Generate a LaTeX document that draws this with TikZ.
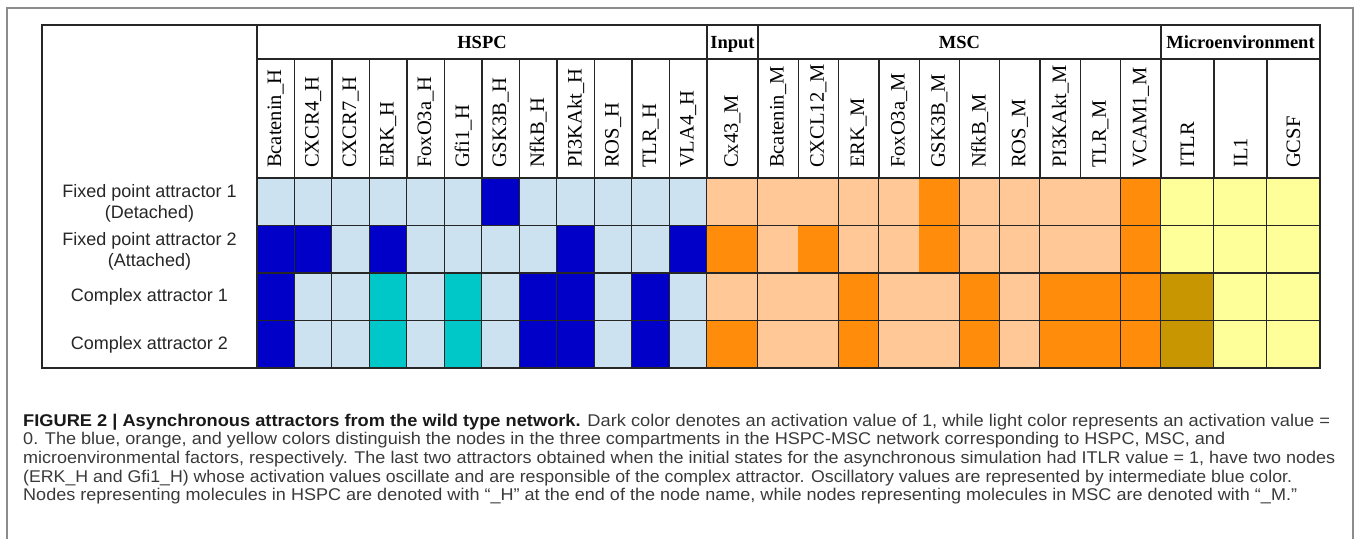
\documentclass[tikz,border=0pt]{standalone}
\usepackage{fontspec}
\usepackage{graphicx}
\setmainfont{Liberation Serif}
\newfontfamily\sansf{Liberation Sans}
\definecolor{lb}{HTML}{CCE2F0}
\definecolor{db}{HTML}{0000C8}
\definecolor{cy}{HTML}{00C8C8}
\definecolor{lo}{HTML}{FFC896}
\definecolor{do}{HTML}{FF8C0A}
\definecolor{ly}{HTML}{FFFF99}
\definecolor{dy}{HTML}{C89600}
\definecolor{framegray}{HTML}{8C8C8C}
\definecolor{captxt}{HTML}{3A3A3A}
\begin{document}
\begin{tikzpicture}[x=1pt,y=-1pt,
  colhead/.style={rotate=90, anchor=west, inner sep=0pt, font=\fontsize{20.5}{20.5}\selectfont},
  grouphead/.style={anchor=base, inner sep=0pt, font=\fontsize{18.5}{19}\selectfont\bfseries},
  rowlab/.style={align=center, inner sep=0pt, text=black!85, font=\sansf\fontsize{18}{21}\selectfont},
  capline/.style={anchor=base west, inner sep=0pt, text=captxt, font=\sansf\fontsize{17}{18}\selectfont},
  tline/.style={line width=1.3pt, draw=black!85},
  framebox/.style={line width=1.5pt, draw=framegray}]
\useasboundingbox (0,0) rectangle (1357,538);
% outer frame
\draw[framebox] (7,540) -- (7,8) -- (1353,8) -- (1353,540);
% cells and column labels
\foreach \xa/\xb/\lbl/\ca/\cb/\cc/\cd [count=\i] in {
  257/294.5/Bcatenin\_H/lb/db/db/db,
  294.5/332/CXCR4\_H/lb/db/lb/lb,
  332/369.5/CXCR7\_H/lb/lb/lb/lb,
  369.5/407/ERK\_H/lb/db/cy/cy,
  407/444.5/FoxO3a\_H/lb/lb/lb/lb,
  444.5/482/Gfi1\_H/lb/lb/cy/cy,
  482/519.5/GSK3B\_H/db/lb/lb/lb,
  519.5/557/NfkB\_H/lb/lb/db/db,
  557/594.5/PI3KAkt\_H/lb/db/db/db,
  594.5/632/ROS\_H/lb/lb/lb/lb,
  632/669.5/TLR\_H/lb/lb/db/db,
  669.5/707/VLA4\_H/lb/db/lb/lb,
  707/758/Cx43\_M/lo/do/lo/do,
  758/798.3/Bcatenin\_M/lo/lo/lo/lo,
  798.3/838.6/CXCL12\_M/lo/do/lo/lo,
  838.6/878.9/ERK\_M/lo/lo/do/do,
  878.9/919.2/FoxO3a\_M/lo/lo/lo/lo,
  919.2/959.5/GSK3B\_M/do/do/lo/lo,
  959.5/999.8/NfkB\_M/lo/lo/do/do,
  999.8/1040.1/ROS\_M/lo/lo/lo/lo,
  1040.1/1080.4/PI3KAkt\_M/lo/lo/do/do,
  1080.4/1120.7/TLR\_M/lo/lo/do/do,
  1120.7/1161/VCAM1\_M/do/do/do/do,
  1161/1214/ITLR/ly/ly/dy/dy,
  1214/1267/IL1/ly/ly/ly/ly,
  1267/1320/GCSF/ly/ly/ly/ly}{
  \fill[\ca] (\xa,178) rectangle (\xb,225.5);
  \fill[\cb] (\xa,225.5) rectangle (\xb,273);
  \fill[\cc] (\xa,273) rectangle (\xb,320.5);
  \fill[\cd] (\xa,320.5) rectangle (\xb,368);
  \node[colhead] (col\i) at ({(\xa+\xb)/2},168) {\lbl};
  \draw[tline] (\xb,59) -- (\xb,368);
}
% grid lines
\draw[tline] (42,25) rectangle (1320,368);
\draw[tline] (257,25) -- (257,368);
\draw[tline] (707,25) -- (707,59);
\draw[tline] (758,25) -- (758,59);
\draw[tline] (1161,25) -- (1161,59);
\draw[tline] (257,59) -- (1320,59);
\foreach \yy in {178,225.5,273,320.5}{\draw[tline] (257,\yy) -- (1320,\yy);}
% group headers
\node[grouphead] (hspc) at (482,48) {HSPC};
\node[grouphead] (input) at (732.5,48) {Input};
\node[grouphead] (msc) at (959.5,48) {MSC};
\node[grouphead] (micro) at (1240.5,48) {Microenvironment};
% row labels
\node[rowlab] (r1) at (149.5,203) {Fixed point attractor 1\\(Detached)};
\node[rowlab] (r2) at (149.5,251) {Fixed point attractor 2\\(Attached)};
\node[rowlab] (r3) at (149.5,297) {Complex attractor 1};
\node[rowlab] (r4) at (149.5,344.5) {Complex attractor 2};
% caption
\node[capline] (cap1) at (23,426) {\resizebox{1307pt}{\height}{\textcolor{black!90}{\bfseries FIGURE 2 | Asynchronous attractors from the wild type network.} Dark color denotes an activation value of 1, while light color represents an activation value =}};
\node[capline] (cap2) at (23,444.7) {\resizebox{1202pt}{\height}{0. The blue, orange, and yellow colors distinguish the nodes in the three compartments in the HSPC-MSC network corresponding to HSPC, MSC, and}};
\node[capline] (cap3) at (23,463.4) {\resizebox{1312pt}{\height}{microenvironmental factors, respectively. The last two attractors obtained when the initial states for the asynchronous simulation had ITLR value = 1, have two nodes}};
\node[capline] (cap4) at (23,482.1) {\resizebox{1269pt}{\height}{(ERK\_H and Gfi1\_H) whose activation values oscillate and are responsible of the complex attractor. Oscillatory values are represented by intermediate blue color.}};
\node[capline] (cap5) at (23,500.8) {\resizebox{1274pt}{\height}{Nodes representing molecules in HSPC are denoted with “\_H” at the end of the node name, while nodes representing molecules in MSC are denoted with “\_M.”}};
\end{tikzpicture}
\end{document}
